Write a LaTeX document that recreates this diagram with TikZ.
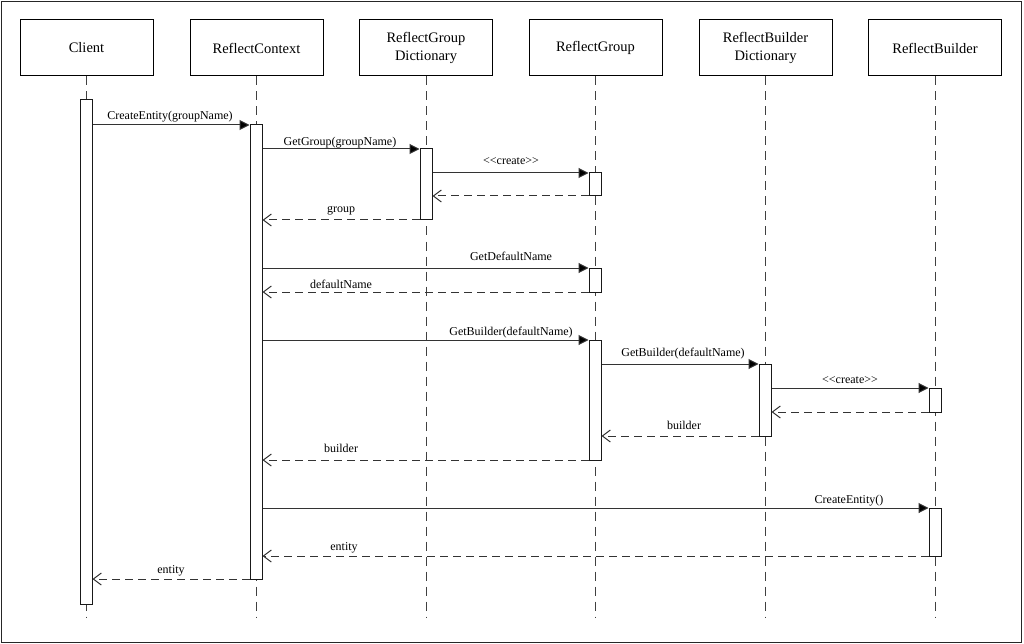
\documentclass[tikz,border=0pt]{standalone}
\usepackage{fontspec}
\setmainfont{Liberation Serif}
\usetikzlibrary{arrows.meta}
\begin{document}
\begin{tikzpicture}[x=1pt,y=-1pt,line width=1pt,
  head/.style={draw=black, fill=white, minimum width=133pt, minimum height=56pt,
    align=center, inner sep=0pt, font=\fontsize{14.5}{18}\selectfont},
  life/.style={draw=black!75, dash pattern=on 9pt off 6pt},
  act/.style={draw=black!90, fill=white, minimum width=12pt, inner sep=0pt},
  call/.style={draw=black!80, -{Triangle[length=10pt,width=10pt,fill=black]}},
  ret/.style={draw=black!80, dash pattern=on 8pt off 5pt,
    -{Straight Barb[length=8pt,width=12pt]}},
  lbl/.style={font=\fontsize{12}{14}\selectfont, anchor=base, inner sep=0pt}]

\useasboundingbox (0,0) rectangle (1024,644);
\draw[black!85] (1.5,2) rectangle (1021,642);

% participants
\node[head] (hC)  at (86.5,48)  {\raisebox{-1.5pt}{Client}};
\node[head] (hR)  at (256.5,48) {\raisebox{-1.5pt}{ReflectContext}};
\node[head] (hGD) at (426,48)   {\raisebox{-1.5pt}{ReflectGroup}\\\raisebox{-1.5pt}{Dictionary}};
\node[head] (hG)  at (595.5,48) {\raisebox{-1.5pt}{ReflectGroup}};
\node[head] (hBD) at (765.5,48) {\raisebox{-1.5pt}{ReflectBuilder}\\\raisebox{-1.5pt}{Dictionary}};
\node[head] (hB)  at (935,48)   {\raisebox{-1.5pt}{ReflectBuilder}};

% lifeline ends
\coordinate (eC)  at (86,617);
\coordinate (eR)  at (256,617);
\coordinate (eGD) at (426,617);
\coordinate (eG)  at (595,617);
\coordinate (eBD) at (765,617);
\coordinate (eB)  at (935,617);

\draw[life] (hC.south)  -- (hC.south  |- eC);
\draw[life] (hR.south)  -- (hR.south  |- eR);
\draw[life] (hGD.south) -- (hGD.south |- eGD);
\draw[life] (hG.south)  -- (hG.south  |- eG);
\draw[life] (hBD.south) -- (hBD.south |- eBD);
\draw[life] (hB.south)  -- (hB.south  |- eB);

% activation bars
\node[act, minimum height=504pt] (aC)  at (86,352)    {};
\node[act, minimum height=454pt] (aR)  at (256,352)   {};
\node[act, minimum height=71pt]  (aGD) at (426,184.5) {};
\node[act, minimum height=23pt]  (aG1) at (595,184.5) {};
\node[act, minimum height=24pt]  (aG2) at (595,280)   {};
\node[act, minimum height=120pt] (aG3) at (595,400)   {};
\node[act, minimum height=72pt]  (aBD) at (765,400)   {};
\node[act, minimum height=24pt]  (aB1) at (935,400)   {};
\node[act, minimum height=48pt]  (aB2) at (935,532)   {};

% messages
\draw[call] (aC.east  |- 0,125) -- (aR.west  |- 0,125);
\draw[call] (aR.east  |- 0,149) -- (aGD.west |- 0,149);
\draw[call] (aGD.east |- 0,173) -- (aG1.west |- 0,173);
\draw[ret]  (aG1.west |- 0,196) -- (aGD.east |- 0,196);
\draw[ret]  (aGD.west |- 0,220) -- (aR.east  |- 0,220);
\draw[call] (aR.east  |- 0,268) -- (aG2.west |- 0,268);
\draw[ret]  (aG2.west |- 0,292) -- (aR.east  |- 0,292);
\draw[call] (aR.east  |- 0,340) -- (aG3.west |- 0,340);
\draw[call] (aG3.east |- 0,364) -- (aBD.west |- 0,364);
\draw[call] (aBD.east |- 0,388) -- (aB1.west |- 0,388);
\draw[ret]  (aB1.west |- 0,412) -- (aBD.east |- 0,412);
\draw[ret]  (aBD.west |- 0,436) -- (aG3.east |- 0,436);
\draw[ret]  (aG3.west |- 0,460) -- (aR.east  |- 0,460);
\draw[call] (aR.east  |- 0,508) -- (aB2.west |- 0,508);
\draw[ret]  (aB2.west |- 0,556) -- (aR.east  |- 0,556);
\draw[ret]  (aR.west  |- 0,579) -- (aC.east  |- 0,579);

% message labels
\node[lbl] (m1)  at (170,120) {CreateEntity(groupName)};
\node[lbl] (m2)  at (340,146) {GetGroup(groupName)};
\node[lbl] (m3)  at (511,165) {<{}<create>{}>};
\node[lbl] (m5)  at (341,213) {group};
\node[lbl] (m6)  at (511,260) {GetDefaultName};
\node[lbl] (m7)  at (341,288) {defaultName};
\node[lbl] (m8)  at (511,335) {GetBuilder(defaultName)};
\node[lbl] (m9)  at (683,356) {GetBuilder(defaultName)};
\node[lbl] (m10) at (850,383) {<{}<create>{}>};
\node[lbl] (m12) at (684,429) {builder};
\node[lbl] (m13) at (341,452) {builder};
\node[lbl] (m14) at (849,503) {CreateEntity()};
\node[lbl] (m15) at (344,550) {entity};
\node[lbl] (m16) at (171,573) {entity};
\end{tikzpicture}
\end{document}
